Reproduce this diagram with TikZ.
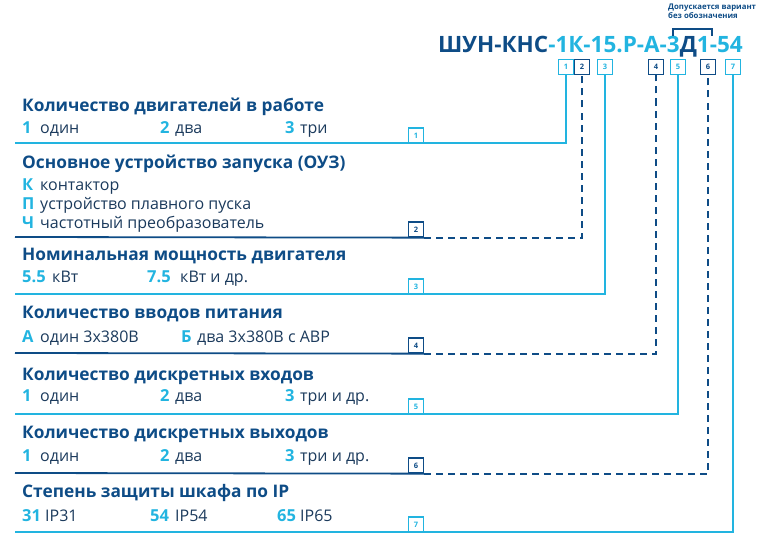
\documentclass[tikz,border=0pt]{standalone}
\usepackage{fontspec}
\setmainfont{Open Sans}
\usetikzlibrary{positioning}

\definecolor{navy}{HTML}{0E4C86}
\definecolor{sky}{HTML}{22B4E0}
\definecolor{ink}{HTML}{1B3A5C}

\tikzstyle{title}=[anchor=base west,inner sep=0pt,text=navy,font=\fontsize{17.3}{19}\selectfont\bfseries]
\tikzstyle{key}=[anchor=base west,inner sep=0pt,text=sky,font=\fontsize{16.5}{18}\selectfont\bfseries]
\tikzstyle{val}=[anchor=base west,inner sep=0pt,text=ink,font=\fontsize{16}{18}\selectfont]
\tikzstyle{numbox}=[draw,fill=white,minimum size=15pt,inner sep=0pt,line width=1.3pt,font=\fontsize{7.5}{8}\selectfont\bfseries]
\tikzstyle{odd}=[numbox,draw=sky,text=sky]
\tikzstyle{even}=[numbox,draw=navy,text=navy]
\tikzstyle{oddline}=[sky,line width=1.8pt]
\tikzstyle{evenline}=[navy,line width=1.8pt]

\begin{document}
\begin{tikzpicture}[x=1pt,y=-1pt]
\useasboundingbox (0,0) rectangle (761,551);

% code
\node[anchor=base west,inner sep=0pt,font=\fontsize{22.5}{24}\selectfont\bfseries] (code) at (438,53)
  {\color{navy}ШУН-КНС\color{sky}-1К-15.Р-А-3\color{navy}Д\color{sky}1-54};
\node[anchor=base west,inner sep=0pt,align=left,text=navy,font=\fontsize{7.8}{9}\selectfont\bfseries] (note) at (668,19)
  {Допускается вариант\\без обозначения};
\draw[navy,line width=1.3pt] (673,36) -- (673,29) -- (712,29) -- (712,36);

% top boxes
\node[odd]  (t1) at (566,67) {1};
\node[even] (t2) at (582,67) {2};
\node[odd]  (t3) at (605,67) {3};
\node[even] (t4) at (656,67) {4};
\node[odd]  (t5) at (678,67) {5};
\node[even] (t6) at (708,67) {6};
\node[odd]  (t7) at (733,67) {7};

% row starts
\coordinate (s1) at (15,143);
\coordinate (s2) at (15,237);
\coordinate (s3) at (15,294);
\coordinate (s4) at (15,353);
\coordinate (s5) at (15,414);
\coordinate (s6) at (15,473);
\coordinate (s7) at (15,532);

% leader lines
\draw[oddline] (s1) -- (s1 -| t1.south) -- (t1.south);
\draw[oddline] (s3) -- (s3 -| t3.south) -- (t3.south);
\draw[oddline] (s5) -- (s5 -| t5.south) -- (t5.south);
\draw[oddline] (s7) -- (s7 -| t7.south) -- (t7.south);
\node[even] (b2) at (416,229.5) {2};
\node[even] (b4) at (416,345.5) {4};
\node[even] (b6) at (416,465.5) {6};
\draw[evenline] (s2) -- (b2.south east);
\draw[evenline,dash pattern=on 7pt off 5pt] (b2.south east) -- (b2.south east -| t2.south) -- (t2.south);
\draw[evenline] (s4) -- (b4.south east);
\draw[evenline,dash pattern=on 7pt off 5pt] (b4.south east) -- (b4.south east -| t4.south) -- (t4.south);
\draw[evenline] (s6) -- (b6.south east);
\draw[evenline,dash pattern=on 7pt off 5pt] (b6.south east) -- (b6.south east -| t6.south) -- (t6.south);
\node[odd] (b1) at (416,135.5) {1};
\node[odd] (b3) at (416,286.5) {3};
\node[odd] (b5) at (416,406.5) {5};
\node[odd] (b7) at (416,524.5) {7};

% row 1
\node[title] (h1) at (22,111) {Количество двигателей в работе};
\node[key] (k1a) at (22,133) {1};  \node[val] (v1a) at (40,133) {один};
\node[key] (k1b) at (160,133) {2}; \node[val] (v1b) at (175,133) {два};
\node[key] (k1c) at (285,133) {3}; \node[val] (v1c) at (300,133) {три};

% row 2
\node[title] (h2) at (22,168) {Основное устройство запуска (ОУЗ)};
\node[key] (k2a) at (22,190) {К}; \node[val] (v2a) at (40,190) {контактор};
\node[key] (k2b) at (22,209) {П}; \node[val] (v2b) at (40,209) {устройство плавного пуска};
\node[key] (k2c) at (22,228) {Ч}; \node[val] (v2c) at (40,228) {частотный преобразователь};

% row 3
\node[title] (h3) at (22,260) {Номинальная мощность двигателя};
\node[key] (k3a) at (22,282) {5.5};  \node[val] (v3a) at (52,282) {кВт};
\node[key] (k3b) at (147,282) {7.5}; \node[val] (v3b) at (180,282) {кВт и др.};

% row 4
\node[title] (h4) at (22,318) {Количество вводов питания};
\node[key] (k4a) at (22,342) {А};  \node[val] (v4a) at (40,342) {один 3х380В};
\node[key] (k4b) at (181,342) {Б}; \node[val] (v4b) at (197,342) {два 3х380В с АВР};

% row 5
\node[title] (h5) at (22,380) {Количество дискретных входов};
\node[key] (k5a) at (22,401) {1};  \node[val] (v5a) at (40,401) {один};
\node[key] (k5b) at (160,401) {2}; \node[val] (v5b) at (175,401) {два};
\node[key] (k5c) at (285,401) {3}; \node[val] (v5c) at (300,401) {три и др.};

% row 6
\node[title] (h6) at (22,438) {Количество дискретных выходов};
\node[key] (k6a) at (22,461) {1};  \node[val] (v6a) at (40,461) {один};
\node[key] (k6b) at (160,461) {2}; \node[val] (v6b) at (175,461) {два};
\node[key] (k6c) at (285,461) {3}; \node[val] (v6c) at (300,461) {три и др.};

% row 7
\node[title] (h7) at (22,497) {Степень защиты шкафа по IP};
\node[key] (k7a) at (22,521) {31};  \node[val] (v7a) at (45,521) {IP31};
\node[key] (k7b) at (150,521) {54}; \node[val] (v7b) at (175,521) {IP54};
\node[key] (k7c) at (277,521) {65}; \node[val] (v7c) at (300,521) {IP65};
\end{tikzpicture}
\end{document}
